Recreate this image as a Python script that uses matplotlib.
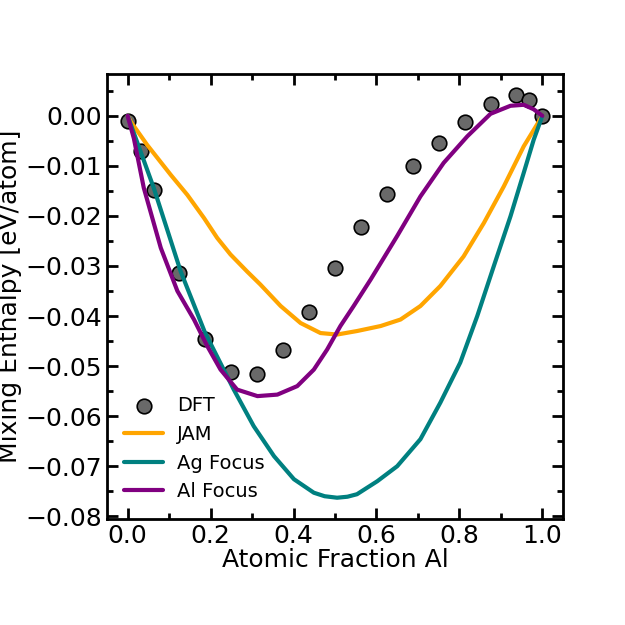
import matplotlib
matplotlib.use("Agg")
import matplotlib.pyplot as plt
from matplotlib.ticker import MultipleLocator

# DFT reference points
dft_x = [0.0, 0.03125, 0.0625, 0.125, 0.1875, 0.25, 0.3125, 0.375, 0.4375, 0.5,
         0.5625, 0.625, 0.6875, 0.75, 0.8125, 0.875, 0.9375, 0.96875, 1.0]
dft_y = [-0.0010, -0.0070, -0.0148, -0.0315, -0.0445, -0.0511, -0.0515, -0.0467,
         -0.0391, -0.0305, -0.0223, -0.0156, -0.0100, -0.0054, -0.0012, 0.0024,
         0.0042, 0.0032, 0.0000]

# JAM potential
jam_x = [0.0, 0.007, 0.047, 0.104, 0.144, 0.184, 0.216, 0.248, 0.288, 0.32,
         0.369, 0.417, 0.465, 0.505, 0.553, 0.61, 0.658, 0.706, 0.754, 0.81,
         0.859, 0.907, 0.955, 1.0]
jam_y = [0.0, -0.0011, -0.0058, -0.0118, -0.0158, -0.0204, -0.0244, -0.0277,
         -0.0311, -0.0337, -0.0380, -0.0414, -0.0434, -0.0437, -0.0430, -0.0420,
         -0.0407, -0.0380, -0.0340, -0.0281, -0.0214, -0.0141, -0.0061, 0.0]

# Ag focus potential
ag_x = [0.0, 0.063, 0.128, 0.186, 0.256, 0.304, 0.353, 0.401, 0.449, 0.475,
        0.505, 0.53, 0.553, 0.602, 0.65, 0.706, 0.754, 0.802, 0.843, 0.883,
        0.923, 0.955, 0.979, 1.0]
ag_y = [0.0, -0.0144, -0.0311, -0.0432, -0.0547, -0.0620, -0.0680, -0.0726,
        -0.0753, -0.0760, -0.0763, -0.0761, -0.0756, -0.0730, -0.0700, -0.0646,
        -0.0573, -0.0493, -0.0400, -0.0300, -0.0201, -0.0114, -0.0048, 0.0]

# Al focus potential
al_x = [0.0, 0.015, 0.039, 0.08, 0.12, 0.16, 0.192, 0.224, 0.264, 0.313, 0.361,
        0.409, 0.449, 0.481, 0.513, 0.545, 0.586, 0.65, 0.706, 0.762, 0.819,
        0.875, 0.923, 0.955, 0.979, 1.0]
al_y = [0.0, -0.0045, -0.0144, -0.0264, -0.0350, -0.0407, -0.0460, -0.0507,
        -0.0547, -0.0560, -0.0557, -0.0540, -0.0507, -0.0467, -0.0420, -0.0380,
        -0.0327, -0.0240, -0.0161, -0.0094, -0.0041, 0.0004, 0.0020, 0.0022,
        0.0013, 0.0]

fig = plt.figure(figsize=(6.25, 6.25), dpi=100)
ax = fig.add_axes([0.171, 0.170, 0.730, 0.712])

ax.scatter(dft_x, dft_y, s=110, color='dimgray', edgecolor='black',
           linewidth=1.2, zorder=1, label='DFT')
line_kw = dict(lw=3, zorder=2, solid_joinstyle='round', solid_capstyle='round')
ax.plot(jam_x, jam_y, color='orange', label='JAM', **line_kw)
ax.plot(ag_x, ag_y, color='teal', label='Ag Focus', **line_kw)
ax.plot(al_x, al_y, color='purple', label='Al Focus', **line_kw)

ax.set_xlim(-0.05, 1.05)
ax.set_ylim(-0.0805, 0.0084)
ax.xaxis.set_major_locator(MultipleLocator(0.2))
ax.xaxis.set_minor_locator(MultipleLocator(0.1))
ax.yaxis.set_major_locator(MultipleLocator(0.01))
ax.yaxis.set_minor_locator(MultipleLocator(0.005))

ax.tick_params(which='both', direction='in', top=True, right=True, width=2,
               labelsize=18)
ax.tick_params(which='major', length=8)
ax.tick_params(which='minor', length=4)
for sp in ax.spines.values():
    sp.set_linewidth(2)

ax.set_xlabel('Atomic Fraction Al', fontsize=18, labelpad=0)
ax.set_ylabel('Mixing Enthalpy [eV/atom]', fontsize=18, labelpad=2)

ax.legend(loc='lower left', frameon=False, fontsize=14, borderaxespad=0.5,
          handlelength=2.0, handletextpad=0.7)

fig.savefig('out.png', dpi=100)
